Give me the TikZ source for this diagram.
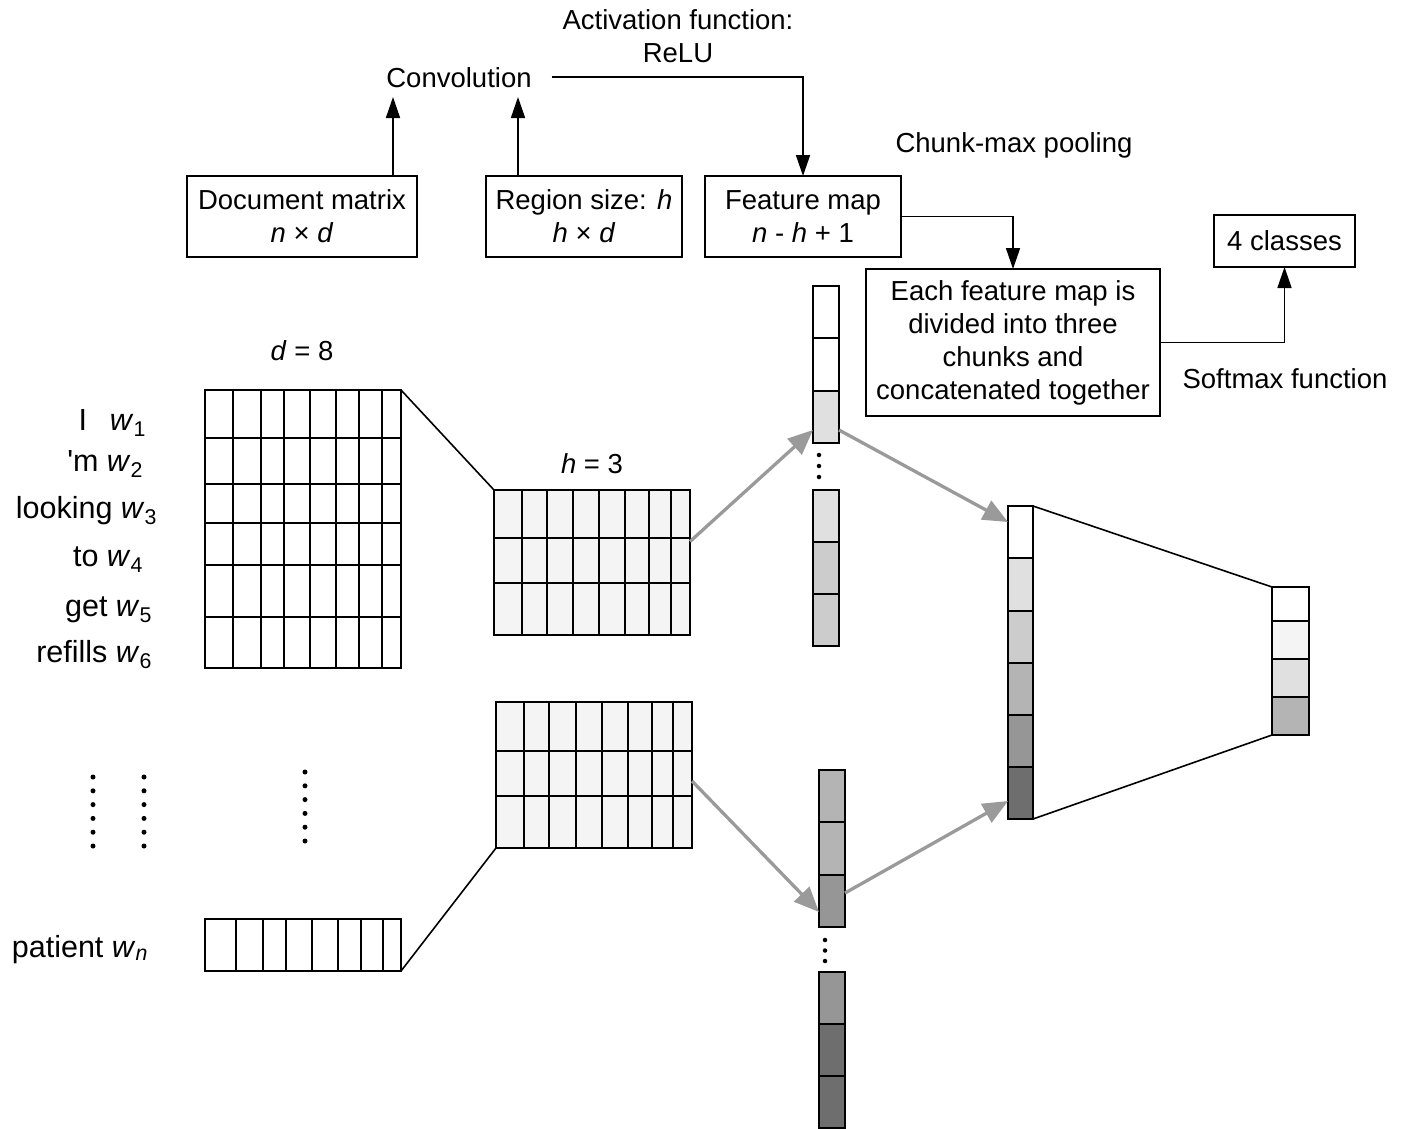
\documentclass[tikz,border=0pt]{standalone}
\usepackage{fontspec}
\setmainfont{Liberation Sans}
\usetikzlibrary{arrows.meta,calc}
\definecolor{gA}{HTML}{F4F4F4}
\definecolor{gB}{HTML}{E0E0E0}
\definecolor{gC}{HTML}{CCCCCC}
\definecolor{gD}{HTML}{B4B4B4}
\definecolor{gE}{HTML}{969696}
\definecolor{gF}{HTML}{6E6E6E}
\definecolor{arrowgray}{HTML}{9A9A9A}
\newcommand\mkgrid[8]{%
  \node[draw, fill=#8, inner sep=0pt, outer sep=0pt, anchor=north west,
        minimum width={(#4)-(#2)}, minimum height={(#5)-(#3)}] (#1) at (#2,#3) {};
  \foreach \xx in {#6} \draw (\xx,#3) -- (\xx,#5);
  \foreach \yy in {#7} \draw (#2,\yy) -- (#4,\yy);
}
\begin{document}
\begin{tikzpicture}[x=1pt,y=-1pt,
  font=\fontsize{27.5}{33}\selectfont,
  line width=1.6pt,
  box/.style={draw, inner sep=0pt, outer sep=0pt, align=center},
  lbl/.style={inner sep=0pt, outer sep=0pt, align=center},
  one/.style={inner sep=0pt, outer sep=0pt, text height=20pt, text depth=0pt},
  word/.style={inner sep=0pt, outer sep=0pt, anchor=base east, font=\fontsize{30.5}{36}\selectfont},
  cell/.style={draw, inner sep=0pt, outer sep=0pt, anchor=north west, minimum width=26},
  blk/.style={-{Triangle[length=21pt,width=14pt]}, line width=1.6pt},
  gry/.style={-{Triangle[length=25pt,width=21pt]}, line width=3.3pt, draw=arrowgray},
  dot/.style={circle, fill=black, inner sep=0pt, minimum size=5pt}]
\useasboundingbox (0,0) rectangle (1405,1128);

% ---- top texts and boxes
\node[lbl] (act) at (678,36) {Activation function:\\ReLU};
\node[one] (conv) at (459,77) {Convolution};
\node[one] (chunk) at (1014,142) {Chunk-max pooling};
\node[one] (soft) at (1285,378) {Softmax function};

\node[box, minimum width=230, minimum height=81] (doc) at (302,216.5)
  {Document matrix\\\textit{n} × \textit{d}};
\node[box, minimum width=196, minimum height=81] (reg) at (584,216.5)
  {Region size: \textit{h}\\\textit{h} × \textit{d}};
\node[box, minimum width=196, minimum height=81] (fmap) at (803,216.5)
  {Feature map\\\textit{n} - \textit{h} + 1};
\node[box, minimum width=294, minimum height=147] (pool) at (1013,342.5)
  {Each feature map is\\divided into three\\chunks and\\concatenated together};
\node[box, minimum width=141, minimum height=52] (cls) at (1284.5,241)
  {4 classes};

\draw[blk] ([xshift=91pt]doc.north) -- ++(0,-79);
\draw[blk] ([xshift=-66pt]reg.north) -- ++(0,-79);
\draw[blk] ([xshift=20pt]conv.east) -| (fmap.north);
\draw[blk] (fmap.east) -| (pool.north);
\draw[blk] (pool.east) -| (cls.south);

% ---- labels
\node[one] (dlab) at (302,350) {\textit{d} = 8};
\node[one] (hlab) at (592,463) {\textit{h} = 3};

\node[word] (w1) at (146,430) {I\hspace{0.75em}\textit{w}\textsubscript{1}};
\node[word] (w2) at (143,471) {\textquotesingle m \textit{w}\textsubscript{2}};
\node[word] (w3) at (157,518) {looking \textit{w}\textsubscript{3}};
\node[word] (w4) at (143,566) {to \textit{w}\textsubscript{4}};
\node[word] (w5) at (152,616) {get \textit{w}\textsubscript{5}};
\node[word] (w6) at (152,662) {refills \textit{w}\textsubscript{6}};
\node[word] (wn) at (148,957) {patient \textit{w}\textsubscript{\textit{n}}};

% ---- dots
\foreach \i in {0,...,5} {
  \node[dot] (da\i) at (93,777+13.8*\i) {};
  \node[dot] (db\i) at (144,777+13.8*\i) {};
  \node[dot] (dc\i) at (305,772+13.8*\i) {};
}
\foreach \i in {0,1,2} {
  \node[dot, minimum size=4.5pt] (dd\i) at (819,455+11*\i) {};
  \node[dot, minimum size=4.5pt] (de\i) at (825,940+10.5*\i) {};
}

% ---- document matrix
\mkgrid{docmat}{205}{390}{401}{668}{233,261,284,310,336,359,382}{438,484,523,565,617}{white}
\mkgrid{lastrow}{205}{919}{401}{971}{236,263,286,312,338,361,383}{}{white}

% ---- region matrices
\mkgrid{upmat}{494}{490}{690}{635}{522,547,573,599,625,649,671}{538,583}{gA}
\mkgrid{lowmat}{496}{702}{692}{848}{524,549,576,602,628,652,673}{751,796}{gA}

\draw (docmat.north east) -- (upmat.north west);
\draw (lastrow.south east) -- (lowmat.south west);

% ---- feature map columns
\node[cell, fill=white, minimum height=52] (ua) at (813,286) {};
\node[cell, fill=white, minimum height=53] (ub) at (813,338) {};
\node[cell, fill=gB, minimum height=52] (uc) at (813,391) {};
\node[cell, fill=gB, minimum height=52] (ud) at (813,490) {};
\node[cell, fill=gC, minimum height=52] (ue) at (813,542) {};
\node[cell, fill=gC, minimum height=52] (uf) at (813,594) {};

\node[cell, fill=gD, minimum height=52] (la) at (819,770) {};
\node[cell, fill=gD, minimum height=53] (lb) at (819,822) {};
\node[cell, fill=gE, minimum height=52] (lc) at (819,875) {};
\node[cell, fill=gE, minimum height=52] (ld) at (819,972) {};
\node[cell, fill=gF, minimum height=52] (le) at (819,1024) {};
\node[cell, fill=gF, minimum height=52] (lf) at (819,1076) {};

% ---- concatenated column
\node[cell, fill=white, minimum width=25, minimum height=52] (r1) at (1008,506) {};
\node[cell, fill=gB, minimum width=25, minimum height=53] (r2) at (1008,558) {};
\node[cell, fill=gC, minimum width=25, minimum height=52] (r3) at (1008,611) {};
\node[cell, fill=gD, minimum width=25, minimum height=52] (r4) at (1008,663) {};
\node[cell, fill=gE, minimum width=25, minimum height=52] (r5) at (1008,715) {};
\node[cell, fill=gF, minimum width=25, minimum height=52] (r6) at (1008,767) {};

% ---- output column
\node[cell, fill=white, minimum width=37, minimum height=34] (o1) at (1272,587) {};
\node[cell, fill=gA, minimum width=37, minimum height=38] (o2) at (1272,621) {};
\node[cell, fill=gB, minimum width=37, minimum height=38] (o3) at (1272,659) {};
\node[cell, fill=gD, minimum width=37, minimum height=38] (o4) at (1272,697) {};

\draw (r1.north east) -- (o1.north west);
\draw (r6.south east) -- (o4.south west);

% ---- gray arrows
\draw[gry] ([yshift=21pt]upmat.east) -- ([yshift=-13pt]uc.west);
\draw[gry] ([yshift=-13pt]uc.east) -- ([yshift=10pt]r1.west);
\draw[gry] ([yshift=-6pt]lowmat.east) -- ([yshift=-11pt]lc.west);
\draw[gry] ([yshift=8pt]lc.east) -- ([yshift=-8pt]r6.west);
\end{tikzpicture}
\end{document}
